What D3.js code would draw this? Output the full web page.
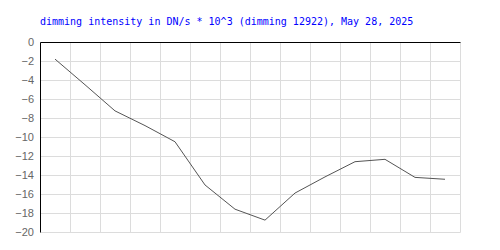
<!DOCTYPE html>
<html lang="en">
<head>
<meta charset="UTF-8">
<title>Dimming intensity</title>
<script src="https://d3js.org/d3.v7.min.js"></script>
<style>
body { margin: 0; background: #fff; }
.title { font-family: "DejaVu Sans Mono", monospace; font-size: 10px; fill: #0000ff; }
.tick-label { font-family: "Liberation Sans", Arial, sans-serif; font-size: 11px; fill: #666; }
</style>
</head>
<body>
<script>

// ---- data ----
var titleText = "dimming intensity in DN/s * 10^3 (dimming 12922), May 28, 2025";
var slots = [0, 1, 2, 3, 4, 5, 6, 7, 8, 9, 10, 11, 12, 13];
var values = [-1.8, -4.5, -7.25, -8.8, -10.5, -15.05, -17.6, -18.75, -15.9, -14.2, -12.6, -12.35, -14.25, -14.45];
var yTicks = [0, -2, -4, -6, -8, -10, -12, -14, -16, -18, -20];

// ---- canvas ----
var w = 500, h = 250;
var margin = { top: 42, bottom: 18, left: 40, right: 40 };

var svg = d3.select("body").append("svg")
    .attr("width", w)
    .attr("height", h);

var x = d3.scaleLinear()
    .domain([0, slots.length])
    .range([margin.left, w - margin.right]);

var y = d3.scaleLinear()
    .domain([0, -20])
    .range([margin.top, h - margin.bottom]);

// grid
var grid = svg.append("g").attr("transform", "translate(0.5,0.5)");
grid.selectAll(".vgrid")
    .data(d3.range(1, slots.length + 1))
    .enter().append("line")
    .attr("x1", function(d){ return x(d); })
    .attr("x2", function(d){ return x(d); })
    .attr("y1", y(0))
    .attr("y2", y(-20))
    .attr("stroke", "#dcdcdc");
grid.selectAll(".hgrid")
    .data(yTicks.slice(1))
    .enter().append("line")
    .attr("x1", x(0))
    .attr("x2", x(slots.length))
    .attr("y1", function(d){ return Math.round(y(d)); })
    .attr("y2", function(d){ return Math.round(y(d)); })
    .attr("stroke", "#dcdcdc");

// black axis lines: top and left
grid.append("line")
    .attr("x1", x(0)).attr("x2", x(slots.length))
    .attr("y1", y(0)).attr("y2", y(0))
    .attr("stroke", "#000");
grid.append("line")
    .attr("x1", x(0)).attr("x2", x(0))
    .attr("y1", y(0)).attr("y2", y(-20))
    .attr("stroke", "#000");

// y labels
svg.selectAll(".tick-label")
    .data(yTicks)
    .enter().append("text")
    .attr("class", "tick-label")
    .attr("x", 34)
    .attr("y", function(d){ return Math.round(y(d)) + 4; })
    .attr("text-anchor", "end")
    .text(function(d){ return d === 0 ? "0" : "\u2212" + Math.abs(d); });

// data line
var line = d3.line()
    .x(function(d, i){ return x(slots[i] + 0.5); })
    .y(function(d){ return y(d); });

svg.append("path")
    .datum(values)
    .attr("d", line)
    .attr("fill", "none")
    .attr("stroke", "#555")
    .attr("stroke-width", 1);

// title
svg.append("text")
    .attr("class", "title")
    .attr("x", 40)
    .attr("y", 25)
    .text(titleText);

</script>
</body>
</html>
